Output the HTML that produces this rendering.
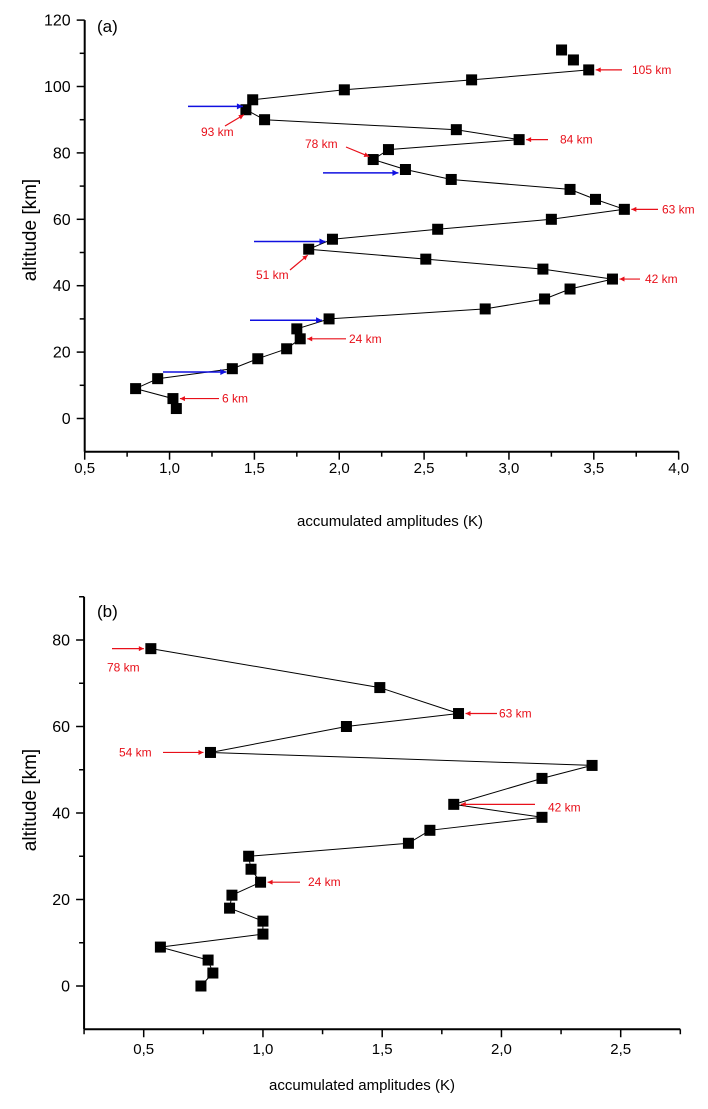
<!DOCTYPE html>
<html><head><meta charset="utf-8"><style>
html,body{margin:0;padding:0;background:#fff;width:708px;height:1109px;overflow:hidden}
svg{display:block;font-family:"Liberation Sans",Arial,sans-serif}
</style></head><body>
<svg id="chart" width="708" height="1109" viewBox="0 0 708 1109" xmlns="http://www.w3.org/2000/svg">
<defs>
<marker id="ar" viewBox="0 0 10 10" refX="10" refY="5" markerWidth="6" markerHeight="5" orient="auto" markerUnits="userSpaceOnUse"><path d="M0,0L10,5L0,10z" fill="#e8101a"/></marker>
<marker id="ab" viewBox="0 0 10 10" refX="10" refY="5" markerWidth="8" markerHeight="6" orient="auto" markerUnits="userSpaceOnUse"><path d="M0,0L10,5L0,10z" fill="#1010e0"/></marker>
</defs>
</svg>
<script>
// ---- panel (a) data ----
const aAlt = [105,102,99,96,93,90,87,84,81,78,75,72,69,66,63,60,57,54,51,48,45,42,39,36,33,30,27,24,21,18,15,12,9,6,3];
const aAmp = [3.47,2.78,2.03,1.49,1.45,1.56,2.69,3.06,2.29,2.20,2.39,2.66,3.36,3.51,3.68,3.25,2.58,1.96,1.82,2.51,3.20,3.61,3.36,3.21,2.86,1.94,1.75,1.77,1.69,1.52,1.37,0.93,0.80,1.02,1.04];
const aLooseAlt = [111,108];
const aLooseAmp = [3.31,3.38];
const aXTicks = [0.5,1.0,1.5,2.0,2.5,3.0,3.5,4.0];
const aYTicks = [0,20,40,60,80,100,120];
// ---- panel (b) data ----
const bAlt = [78,69,63,60,54,51,48,42,39,36,33,30,27,24,21,18,15,12,9,6,3,0];
const bAmp = [0.53,1.49,1.82,1.35,0.78,2.38,2.17,1.80,2.17,1.70,1.61,0.94,0.95,0.99,0.87,0.86,1.00,1.00,0.57,0.77,0.79,0.74];
const bXTicks = [0.5,1.0,1.5,2.0,2.5];
const bYTicks = [0,20,40,60,80];

const svg = document.getElementById('chart');
const NS = 'http://www.w3.org/2000/svg';
function mk(tag, attrs, parent){const e=document.createElementNS(NS,tag);for(const k in attrs)e.setAttribute(k,attrs[k]);(parent||svg).appendChild(e);return e;}

const ax = v => 84.7 + (v-0.5)*169.7;
const ay = v => 418.5 - v*3.32;
const bx = v => 143.7 + (v-0.5)*238.5;
const by = v => 986 - v*4.325;

function axes(name, xf, yf, xmin, xmax, ymin, ymax, xticks, yticks, xminor, yminor, xLabelY){
  const g = mk('g',{});
  
  
  const x0 = xf(xmin), x1 = xf(xmax), y0 = yf(ymin), y1 = yf(ymax);
  mk('line',{x1:x0,y1:y0,x2:x0,y2:y1,stroke:'#000','stroke-width':2},g);
  mk('line',{x1:x0,y1:y0,x2:x1,y2:y0,stroke:'#000','stroke-width':2},g);
  xminor.forEach(v=>mk('line',{x1:xf(v),y1:y0,x2:xf(v),y2:y0+5,stroke:'#000','stroke-width':1.5},g));
  yminor.forEach(v=>mk('line',{x1:x0,y1:yf(v),x2:x0-5,y2:yf(v),stroke:'#000','stroke-width':1.5},g));
  xticks.forEach(v=>{
    mk('line',{x1:xf(v),y1:y0,x2:xf(v),y2:y0+8,stroke:'#000','stroke-width':1.5},g);
    const t = mk('text',{x:xf(v),y:xLabelY,'text-anchor':'middle','font-size':15,fill:'#000'},g);
    
    
    t.textContent = v.toFixed(1).replace('.',',');
  });
  yticks.forEach(v=>{
    mk('line',{x1:x0,y1:yf(v),x2:x0-8,y2:yf(v),stroke:'#000','stroke-width':1.5},g);
    const t = mk('text',{x:x0-14,y:yf(v)+5.5,'text-anchor':'end','font-size':16,fill:'#000'},g);
    
    
    t.textContent = v;
  });
}
function series(name, xf, yf, amps, alts, connect){
  const g = mk('g',{});
  
  
  if(connect){
    const pts = amps.map((a,i)=>xf(a).toFixed(1)+','+yf(alts[i]).toFixed(1)).join(' ');
    mk('polyline',{points:pts,fill:'none',stroke:'#000','stroke-width':1},g);
  }
  amps.forEach((a,i)=>{
    const r = mk('rect',{x:xf(a)-5.5,y:yf(alts[i])-5.5,width:11,height:11,fill:'#000'},g);
    
    
  });
}
function arrow(x1,y1,x2,y2,color){
  const l = mk('line',{x1:x1,y1:y1,x2:x2,y2:y2,stroke:color==='b'?'#1010e0':'#e8101a','stroke-width':color==='b'?1.5:1.2,'marker-end':color==='b'?'url(#ab)':'url(#ar)'});
  
  
}
function label(x,y,txt,size,color,name,anchor,rot){
  const t = mk('text',{x:x,y:y,'font-size':size,fill:color,'text-anchor':anchor||'start'});
  if(rot) t.setAttribute('transform','rotate(-90 '+x+' '+y+')');
  
  
  t.textContent = txt;
}

// ---- panel (a) ----
axes('panel-a', ax, ay, 0.5, 4.0, -10, 120, aXTicks, aYTicks,
  [0.75,1.25,1.75,2.25,2.75,3.25,3.75], [10,30,50,70,90,110], 473);
series('panel-a-series', ax, ay, aAmp, aAlt, true);
series('panel-a-extra-points', ax, ay, aLooseAmp, aLooseAlt, false);
label(97,32,'(a)',17,'#000','panel-a-label');
label(36,230,'altitude [km]',19,'#000','y-axis-title-a','middle',true);
label(390,526,'accumulated amplitudes   (K)',15,'#000','x-axis-title-a','middle');
arrow(622,ay(105),ax(3.47)+7,ay(105),'r'); label(632,ay(105)+4,'105 km',12,'#e8101a','annotation-105km');
arrow(548,ay(84),ax(3.06)+7,ay(84),'r'); label(560,ay(84)+4,'84 km',12,'#e8101a','annotation-84km');
arrow(658,ay(63),ax(3.68)+7,ay(63),'r'); label(662,ay(63)+4,'63 km',12,'#e8101a','annotation-63km');
arrow(640,ay(42),ax(3.61)+7,ay(42),'r'); label(645,ay(42)+4,'42 km',12,'#e8101a','annotation-42km');
arrow(346,ay(24),ax(1.77)+7,ay(24),'r'); label(349,ay(24)+4,'24 km',12,'#e8101a','annotation-24km');
arrow(219,ay(6),ax(1.02)+7,ay(6),'r'); label(222,ay(6)+4,'6 km',12,'#e8101a','annotation-6km');
arrow(225,126,ax(1.45)-2,ay(93)+5,'r'); label(201,136,'93 km',12,'#e8101a','annotation-93km');
arrow(346,147,ax(2.20)-4,ay(78)-3,'r'); label(305,148,'78 km',12,'#e8101a','annotation-78km');
arrow(290,270,ax(1.82)-1,ay(51)+6,'r'); label(256,279,'51 km',12,'#e8101a','annotation-51km');
arrow(188,ay(94),ax(1.45)-3,ay(94),'b');
arrow(323,ay(74),ax(2.39)-7,ay(74),'b');
arrow(254,ay(53.3),ax(1.96)-7,ay(53.3),'b');
arrow(250,ay(29.6),ax(1.94)-7,ay(29.6),'b');
arrow(163,ay(14),ax(1.37)-6,ay(14),'b');

// ---- panel (b) ----
axes('panel-b', bx, by, 0.25, 2.75, -10, 90, bXTicks, bYTicks,
  [0.25,0.75,1.25,1.75,2.25,2.75], [10,30,50,70,90], 1054);
series('panel-b-series', bx, by, bAmp, bAlt, true);
label(97,617,'(b)',17,'#000','panel-b-label');
label(36,800,'altitude [km]',19,'#000','y-axis-title-b','middle',true);
label(362,1090,'accumulated amplitudes  (K)',15,'#000','x-axis-title-b','middle');
arrow(112,by(78),bx(0.53)-7,by(78),'r'); label(107,by(78)+23,'78 km',12,'#e8101a','annotation-b-78km');
arrow(497,by(63),bx(1.82)+7,by(63),'r'); label(499,by(63)+4,'63 km',12,'#e8101a','annotation-b-63km');
arrow(163,by(54),bx(0.78)-7,by(54),'r'); label(119,by(54)+4,'54 km',12,'#e8101a','annotation-b-54km');
arrow(535,by(42),bx(1.80)+7,by(42),'r'); label(548,by(42)+7,'42 km',12,'#e8101a','annotation-b-42km');
arrow(300,by(24),bx(0.99)+7,by(24),'r'); label(308,by(24)+4,'24 km',12,'#e8101a','annotation-b-24km');
</script>
</body></html>
